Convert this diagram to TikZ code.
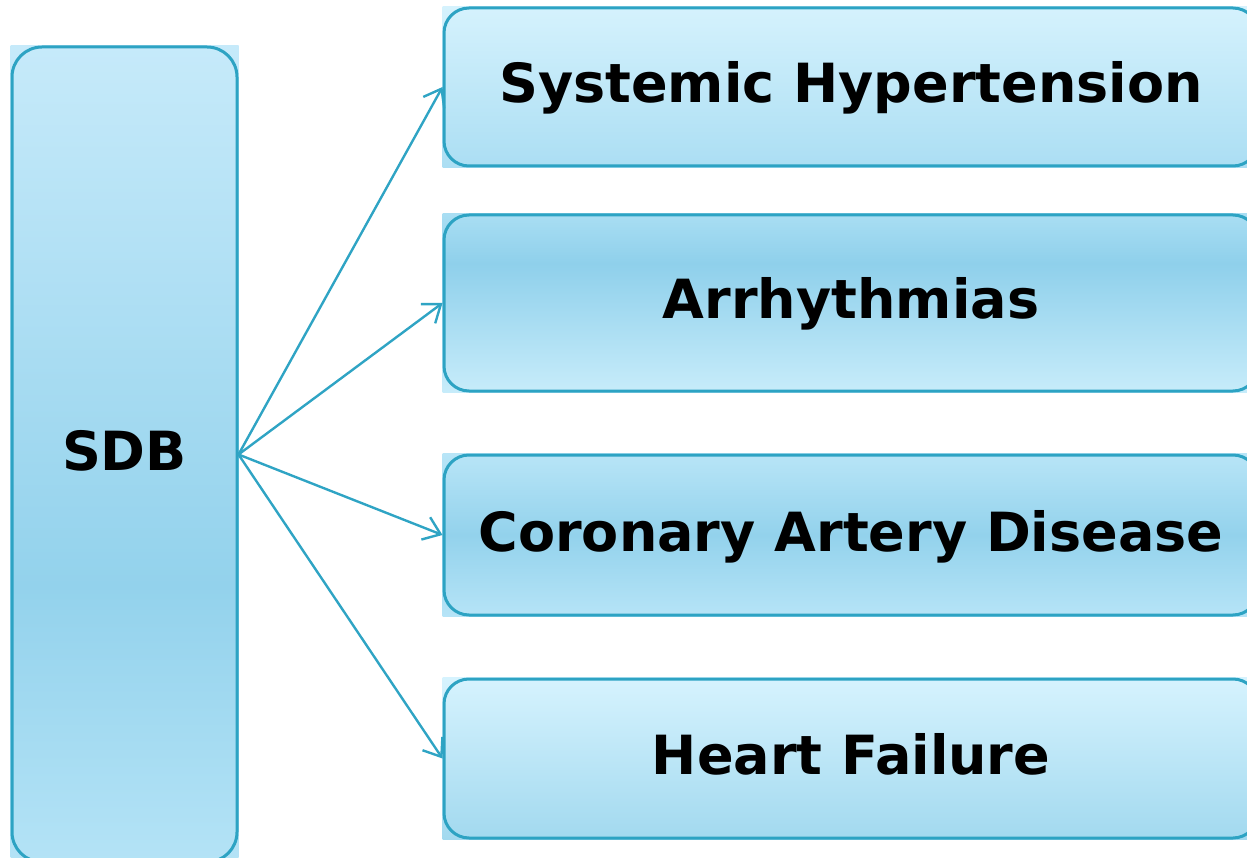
\documentclass[tikz,border=0pt]{standalone}
\usepackage{fontspec}
\setmainfont{DejaVu Sans}
\usepackage{tikz}
\usetikzlibrary{positioning, arrows.meta, backgrounds}
\definecolor{boxedge}{HTML}{2DA3C3}
\definecolor{arrowblue}{HTML}{2FA4C4}
\definecolor{sdbtop}{HTML}{C6EAFA}
\definecolor{sdbmid}{HTML}{93D2EC}
\definecolor{sdbbot}{HTML}{B4E3F6}
\definecolor{hyptop}{HTML}{D5F2FD}
\definecolor{hypbot}{HTML}{ABDEF3}
\definecolor{arrtop}{HTML}{A9DEF3}
\definecolor{arrmid}{HTML}{8FD0EB}
\definecolor{arrbot}{HTML}{C7ECFA}
\definecolor{cadtop}{HTML}{B8E5F7}
\definecolor{cadmid}{HTML}{93D2EC}
\definecolor{cadbot}{HTML}{B6E4F7}
\definecolor{hftop}{HTML}{D6F3FE}
\definecolor{hfbot}{HTML}{A2D9EF}
\pgfdeclareverticalshading{sdbshade}{100bp}{color(0bp)=(sdbbot); color(25bp)=(sdbbot); color(42bp)=(sdbmid); color(75bp)=(sdbtop); color(100bp)=(sdbtop)}
\pgfdeclareverticalshading{arrshade}{100bp}{color(0bp)=(arrbot); color(25bp)=(arrbot); color(61bp)=(arrmid); color(75bp)=(arrtop); color(100bp)=(arrtop)}

\begin{document}
\begin{tikzpicture}[
  x=1pt, y=-1pt,
  box/.style={draw=boxedge, line width=3pt, rounded corners=25pt, inner sep=0pt, align=center,
    font=\bfseries\fontsize{54}{60}\selectfont, text height=39pt, text depth=7pt},
  effect/.style={box, minimum width=814pt},
  arr/.style={-{Straight Barb[length=16pt, width=24pt]}, line width=2.4pt, color=arrowblue}
]
\useasboundingbox (0,0) rectangle (1247,858);

\node[box, minimum width=225pt, minimum height=815pt, rounded corners=30pt] (sdb) at (124.5,454.5) {SDB};

\node[effect, minimum height=158pt] (hyp) at (851,87) {Systemic Hypertension};
\node[effect, minimum height=176pt] (arrh) at (851,303) {Arrhythmias};
\node[effect, minimum height=160pt] (cad) at (851,535) {Coronary Artery Disease};
\node[effect, minimum height=159pt] (hf) at (851,758.5) {Heart Failure};

% fills sit square behind the rounded borders
\begin{scope}[on background layer]
  \shade[shading=sdbshade] (sdb.south west) rectangle (sdb.north east);
  \shade[top color=hyptop, bottom color=hypbot] (hyp.south west) rectangle (hyp.north east);
  \shade[shading=arrshade] (arrh.south west) rectangle (arrh.north east);
  \shade[top color=cadtop, bottom color=cadbot, middle color=cadmid] (cad.south west) rectangle (cad.north east);
  \shade[top color=hftop, bottom color=hfbot] (hf.south west) rectangle (hf.north east);
\end{scope}

\draw[arr] (sdb.east) -- (hyp.west);
\draw[arr] (sdb.east) -- (arrh.west);
\draw[arr] (sdb.east) -- (cad.west);
\draw[arr] (sdb.east) -- (hf.west);

\end{tikzpicture}
\end{document}
